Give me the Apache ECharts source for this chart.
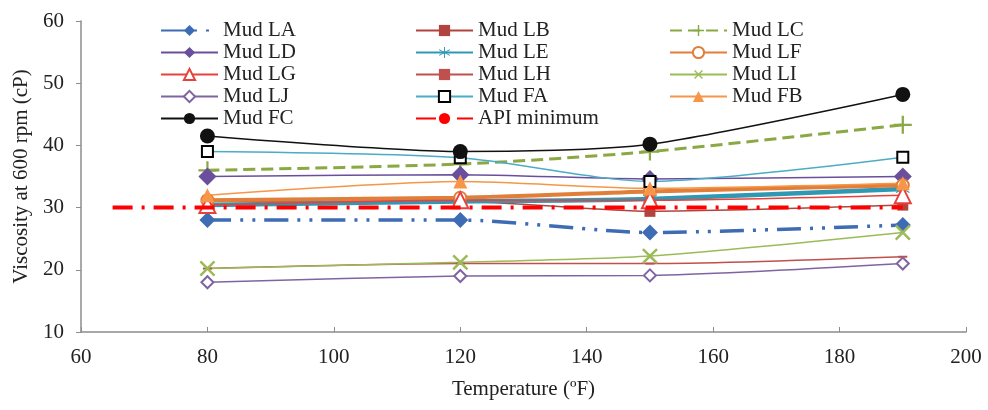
<!DOCTYPE html>
<html>
<head>
<meta charset="utf-8">
<script src="https://cdn.jsdelivr.net/npm/echarts@6/dist/echarts.min.js"></script>
<style>
  html, body { margin: 0; padding: 0; background: #fff; }
  #chart { width: 988px; height: 410px; }
</style>
</head>
<body>
<div id="chart"></div>
<script>
// temperatures (°F) and viscosity at 600 rpm (cP) per mud
var temps = [80, 120, 150, 190];
var mudLA = [28, 28, 26, 27.2];
var mudLB = [31, 31, 29.4, 30.4];
var mudLC = [36, 37, 39, 43.3];
var mudLD = [35, 35.3, 34.6, 35];
var mudLE = [30.4, 31, 31.4, 33];
var mudLF = [31.2, 31.6, 32.6, 33.6];
var mudLG = [30.4, 31.2, 31.2, 32];
var mudLH = [20.2, 21, 21, 22.1];
var mudLI = [20.2, 21.2, 22.2, 26];
var mudLJ = [18, 19, 19.1, 21];
var mudFA = [39, 38, 34.2, 38.1];
var mudFB = [32, 34.2, 33.1, 33.9];
var mudFC = [41.5, 39, 40.2, 48.2];
var apiTemps = [65, 190];
var apiMin = [30, 30];

var xTicks = { min: 60, max: 200, interval: 20 };
var yTicks = { min: 10, max: 60, interval: 10 };

var serif = "Liberation Serif";
var plusPath = 'path://M-1,-8L1,-8L1,-1L8,-1L8,1L1,1L1,8L-1,8L-1,1L-8,1L-8,-1L-1,-1Z';
var starPath = 'path://M-0.6,-8L0.6,-8L0.6,-1L6.5,-4.6L7.1,-3.6L1.2,0L7.1,3.6L6.5,4.6L0.6,1L0.6,8L-0.6,8L-0.6,1L-6.5,4.6L-7.1,3.6L-1.2,0L-7.1,-3.6L-6.5,-4.6L-0.6,-1Z';

function pts(xs, ys) {
  return xs.map(function (x, i) { return [x, ys[i]]; });
}

function mk(name, ys, color, opt) {
  opt = opt || {};
  return {
    name: name,
    type: 'line',
    smooth: 0.25,
    data: pts(temps, ys),
    symbol: opt.symbol || 'circle',
    symbolSize: opt.size || 10,
    symbolRotate: opt.rotate || 0,
    lineStyle: { color: color, width: opt.width || 1.5, type: opt.dash || 'solid' },
    itemStyle: {
      color: opt.mark || color,
      borderColor: opt.mark || color,
      borderWidth: opt.bw || 0
    },
    emphasis: { disabled: true },
    z: opt.z || 2
  };
}

var chart = echarts.init(document.getElementById('chart'));

var series = [
  mk('Mud LA', mudLA, '#3D6CB4', { symbol: 'diamond', size: 16, width: 3.5, dash: [24, 9, 3, 9, 3, 9] }),
  mk('Mud LB', mudLB, '#B3433F', { symbol: 'rect', size: 11 }),
  mk('Mud LC', mudLC, '#8AA843', { symbol: plusPath, size: 18, width: 3, dash: [12, 6] }),
  mk('Mud LD', mudLD, '#6A4F9C', { symbol: 'diamond', size: 18 }),
  mk('Mud LE', mudLE, '#2F98B3', { symbol: starPath, size: 14, width: 4.5 }),
  mk('Mud LF', mudLF, '#E07E3A', { symbol: 'emptyCircle', size: 12, width: 4, bw: 1.5 }),
  mk('Mud LG', mudLG, '#E8413D', { symbol: 'emptyTriangle', size: 16, width: 1.5, bw: 2 }),
  mk('Mud LH', mudLH, '#C0504D', { symbol: 'rect', size: [9, 2] }),
  mk('Mud LI', mudLI, '#9BBB59', { symbol: plusPath, size: 20, rotate: 45 }),
  mk('Mud LJ', mudLJ, '#8064A2', { symbol: 'emptyDiamond', size: 12, bw: 2 }),
  mk('Mud FA', mudFA, '#4BACC6', { symbol: 'emptyRect', size: 11, mark: '#000', bw: 3 }),
  mk('Mud FB', mudFB, '#F79646', { symbol: 'triangle', size: 14 }),
  mk('Mud FC', mudFC, '#111111', { symbol: 'circle', size: 15 }),
  {
    name: 'API minimum',
    type: 'line',
    data: pts(apiTemps, apiMin),
    symbol: 'none',
    lineStyle: { color: '#FF0000', width: 4, type: [20, 9, 3, 9] },
    itemStyle: { color: '#FF0000' },
    emphasis: { disabled: true },
    z: 3
  }
];

function legendCol(left, names) {
  return {
    orient: 'vertical',
    left: left,
    top: 15,
    itemWidth: 57,
    itemHeight: 14,
    itemGap: 1,
    data: names,
    textStyle: { fontFamily: serif, fontSize: 21, color: '#222' }
  };
}

var axisFont = { fontFamily: serif, fontSize: 21, color: '#222' };

chart.setOption({
  backgroundColor: '#fff',
  animation: false,
  grid: { left: 81, right: 22, top: 21, bottom: 78 },
  legend: [
    legendCol(155, ['Mud LA', 'Mud LD', 'Mud LG', 'Mud LJ', 'Mud FC']),
    legendCol(410, ['Mud LB', 'Mud LE', 'Mud LH', 'Mud FA', 'API minimum']),
    legendCol(664, ['Mud LC', 'Mud LF', 'Mud LI', 'Mud FB'])
  ],
  xAxis: {
    type: 'value',
    min: xTicks.min,
    max: xTicks.max,
    interval: xTicks.interval,
    name: 'Temperature (\u00BAF)',
    nameLocation: 'middle',
    nameGap: 47,
    nameTextStyle: axisFont,
    axisLine: { lineStyle: { color: '#8c8c8c', width: 1.5 } },
    axisTick: { show: true, inside: true, length: 5, lineStyle: { color: '#8c8c8c' } },
    axisLabel: Object.assign({ margin: 15 }, axisFont),
    splitLine: { show: false }
  },
  yAxis: {
    type: 'value',
    min: yTicks.min,
    max: yTicks.max,
    interval: yTicks.interval,
    name: 'Viscosity at 600 rpm (cP)',
    nameLocation: 'middle',
    nameGap: 49,
    nameTextStyle: axisFont,
    axisLine: { show: true, lineStyle: { color: '#8c8c8c', width: 1.5 } },
    axisTick: { show: true, length: 5, lineStyle: { color: '#8c8c8c' } },
    axisLabel: Object.assign({ margin: 17 }, axisFont),
    splitLine: { show: false }
  },
  series: series
});
</script>
</body>
</html>
